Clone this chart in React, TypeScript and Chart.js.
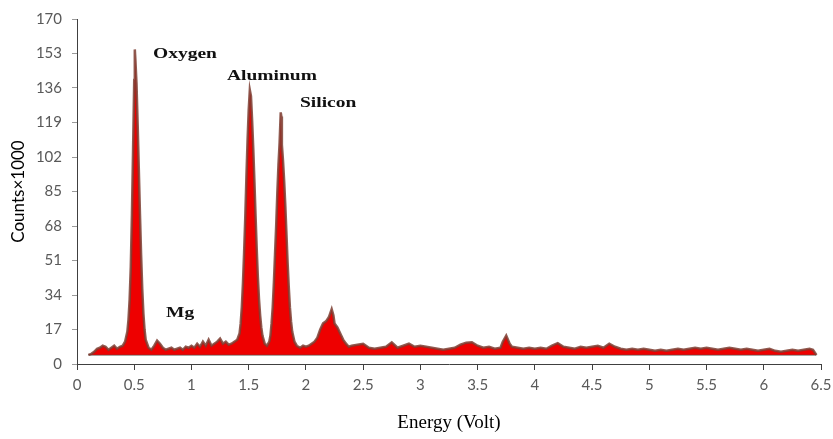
import React, { useEffect, useRef } from "react";
import { Chart, registerables } from "chart.js";

Chart.register(...registerables);

// Energy (labelled Volt) sample positions
const energy = [
  0.1, 0.125, 0.15, 0.175, 0.2, 0.225, 0.25, 0.275, 0.3, 0.325, 0.35, 0.375, 0.4,
  0.42, 0.44, 0.45, 0.46, 0.47, 0.48, 0.49, 0.5, 0.505, 0.51, 0.52, 0.53, 0.54, 0.55, 0.56, 0.57, 0.58, 0.59, 0.6,
  0.625, 0.65, 0.675, 0.7, 0.725, 0.75, 0.775, 0.8, 0.825, 0.85, 0.875, 0.9, 0.925, 0.95, 0.975, 1.0,
  1.025, 1.05, 1.075, 1.1, 1.125, 1.15, 1.175, 1.2, 1.225, 1.25, 1.275, 1.3, 1.325, 1.35, 1.375, 1.4,
  1.42, 1.43, 1.44, 1.45, 1.46, 1.47, 1.48, 1.49, 1.5, 1.51, 1.52, 1.53, 1.54, 1.55, 1.56, 1.57, 1.58, 1.59, 1.6, 1.61, 1.62, 1.64, 1.66,
  1.68, 1.69, 1.7, 1.71, 1.72, 1.73, 1.74, 1.75, 1.76, 1.77, 1.78, 1.785, 1.79, 1.8, 1.81, 1.82, 1.83, 1.84, 1.85, 1.86, 1.87, 1.88, 1.9, 1.92,
  1.95, 1.975, 2.0, 2.025, 2.05, 2.075, 2.1, 2.125, 2.15, 2.175, 2.2, 2.225, 2.24, 2.25, 2.275, 2.3, 2.325, 2.35, 2.375, 2.4,
  2.45, 2.5, 2.55, 2.6, 2.65, 2.7, 2.75, 2.8, 2.85, 2.9, 2.95, 3.0, 3.05, 3.1, 3.15, 3.2, 3.25, 3.3, 3.35, 3.4, 3.45, 3.5,
  3.55, 3.6, 3.65, 3.7, 3.72, 3.75, 3.78, 3.8, 3.85, 3.9, 3.95, 4.0, 4.05, 4.1, 4.15, 4.2, 4.25, 4.3, 4.35, 4.4, 4.45, 4.5,
  4.55, 4.6, 4.65, 4.7, 4.75, 4.8, 4.85, 4.9, 4.95, 5.0, 5.05, 5.1, 5.15, 5.2, 5.25, 5.3, 5.35, 5.4, 5.45, 5.5,
  5.55, 5.6, 5.65, 5.7, 5.75, 5.8, 5.85, 5.9, 5.95, 6.0, 6.05, 6.1, 6.15, 6.2, 6.25, 6.3, 6.35, 6.4, 6.43, 6.46,
];

// Counts ×1000
const counts = [
  4.5, 5, 6, 7.5, 8, 9, 8.5, 7, 8, 9, 7.5, 8.5, 9,
  11, 16, 22, 32, 48, 74, 106, 140, 155, 150, 138, 118, 96, 74, 54, 37, 25, 17, 12,
  8, 7, 9, 11.5, 10, 8, 7, 7.5, 8, 7, 7.5, 8, 7, 8.5, 8, 9,
  8, 10, 8.5, 11, 9, 12, 9, 10, 11, 12.5, 10, 11, 9.5, 10, 11, 12,
  15, 20, 28, 40, 55, 72, 92, 110, 125, 135, 132, 120, 106, 90, 73, 57, 43, 32, 24, 18, 14, 10, 9,
  11, 14, 20, 28, 40, 54, 68, 84, 98, 109, 124, 122, 108, 100, 90, 78, 64, 50, 38, 28, 21, 16, 11, 9,
  8, 9, 8.5, 9, 10, 11, 13, 17, 20, 21, 23, 27, 24, 20, 18, 15, 12, 10, 8.5, 9,
  9.5, 10, 8, 7.5, 8, 8.5, 10.7, 8, 9, 10, 8.5, 9, 8.5, 8, 7.5, 7, 7.5, 8, 9.5, 10.5, 10.7, 9,
  8, 8.5, 7.5, 8, 11, 14, 10, 8.5, 8, 7.5, 8, 7.5, 8, 7.5, 9, 10.3, 8.5, 8, 7.5, 8.5, 8, 8.5,
  9, 8, 10, 8.5, 7.5, 7, 7.5, 7, 7.5, 7, 6.5, 7, 6.5, 7, 7.5, 7, 7.5, 8, 7.5, 8,
  7.5, 7, 7.5, 8, 7.5, 7, 7.5, 7, 6.5, 7, 7.5, 6.5, 6, 6.5, 7, 6.5, 7, 7.5, 7, 4.5,
];

const baselineEnergy = [0.1, 6.46];
const baselineCounts = [4.5, 4.5];

const peakNames = ["Oxygen", "Aluminum", "Silicon", "Mg"];
const peakLabelEnergy = [0.664, 1.31, 1.948, 0.778];
const peakLabelCounts = [151, 139.7, 126.5, 23];

const X_MIN = 0;
const X_MAX = 6.5;
const X_STEP = 0.5;
const Y_MIN = 0;
const Y_MAX = 170;
const Y_STEP = 17;

const peakLabelPlugin = {
  id: "peakLabels",
  afterDatasetsDraw(chart: any) {
    const { ctx, scales } = chart;
    ctx.save();
    ctx.fillStyle = "#111";
    ctx.font = 'bold 15px "Liberation Serif"';
    ctx.textBaseline = "alphabetic";
    ctx.textAlign = "left";
    peakNames.forEach((name, i) => {
      const px = scales.x.getPixelForValue(peakLabelEnergy[i]);
      const py = scales.y.getPixelForValue(peakLabelCounts[i]);
      ctx.save();
      ctx.translate(px, py);
      ctx.scale(1.3, 1);
      ctx.fillText(name, 0, 0);
      ctx.restore();
    });
    ctx.restore();
  },
};

export default function App() {
  const canvasRef = useRef<HTMLCanvasElement | null>(null);

  useEffect(() => {
    if (!canvasRef.current) return;
    const spectrum = energy.map((e, i) => ({ x: e, y: counts[i] }));
    const base = baselineEnergy.map((e, i) => ({ x: e, y: baselineCounts[i] }));
    const chart = new Chart(canvasRef.current, {
      type: "line",
      data: {
        datasets: [
          {
            label: "Spectrum",
            data: spectrum,
            borderColor: "rgba(125,62,50,0.85)",
            borderWidth: 2.5,
            backgroundColor: "#ee0000",
            fill: { value: 4.5 },
            pointRadius: 0,
            tension: 0,
          },
          {
            label: "Baseline",
            data: base,
            borderColor: "#5a4a45",
            borderWidth: 1.5,
            pointRadius: 0,
            fill: false,
          },
        ],
      },
      options: {
        animation: false,
        responsive: true,
        maintainAspectRatio: false,
        layout: { padding: { top: 16, right: 12, left: 0, bottom: 0 } },
        plugins: {
          legend: { display: false },
          tooltip: { enabled: false },
        },
        scales: {
          x: {
            type: "linear",
            min: X_MIN,
            max: X_MAX,
            afterFit: (scale: any) => {
              scale.height = 75;
              scale.paddingRight = 0;
              scale.paddingLeft = 0;
            },
            ticks: {
              stepSize: X_STEP,
              color: "#595959",
              font: { family: "Lato", size: 15 },
              padding: 6,
              maxRotation: 0,
              autoSkip: false,
              callback: (v: any) => `${Number(v)}`,
            },
            grid: {
              display: true,
              drawOnChartArea: false,
              drawTicks: true,
              tickLength: 6,
              color: "#404040",
            },
            border: { display: true, color: "#404040", width: 1 },
            title: {
              display: true,
              text: "Energy (Volt)",
              color: "#000",
              font: { family: "Liberation Serif", size: 19 },
              padding: { top: 0, bottom: 5 },
            },
          },
          y: {
            type: "linear",
            min: Y_MIN,
            max: Y_MAX,
            afterFit: (scale: any) => {
              scale.width = 77;
            },
            ticks: {
              stepSize: Y_STEP,
              color: "#595959",
              font: { family: "Lato", size: 15 },
              padding: 10,
              autoSkip: false,
            },
            grid: {
              display: true,
              drawOnChartArea: false,
              drawTicks: true,
              tickLength: 5,
              color: "#9a9a9a",
            },
            border: { display: true, color: "#404040", width: 1 },
            title: {
              display: true,
              text: "Counts×1000",
              color: "#000",
              font: { family: "Lato", size: 17 },
              padding: { top: 8, bottom: 0 },
            },
          },
        },
      },
      plugins: [peakLabelPlugin],
    });
    return () => chart.destroy();
  }, []);

  return (
    <div style={{ position: "fixed", left: 0, top: 0, width: 833, height: 439, background: "#fff" }}>
      <canvas ref={canvasRef} />
    </div>
  );
}
